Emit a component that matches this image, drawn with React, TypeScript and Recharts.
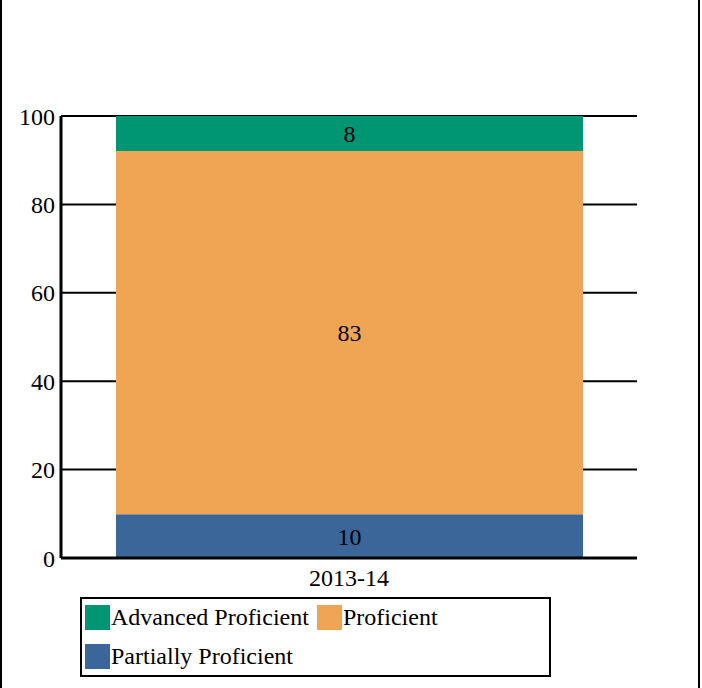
import {
  BarChart,
  Bar,
  XAxis,
  YAxis,
  CartesianGrid,
  LabelList,
} from "recharts";

const years = ["2013-14"];
const partiallyProficient = [10];
const proficient = [83];
const advancedProficient = [8];
const yTicks = [0, 20, 40, 60, 80, 100];

const series = [
  { key: "partial", name: "Partially Proficient", color: "#3B6699", values: partiallyProficient },
  { key: "prof", name: "Proficient", color: "#F0A555", values: proficient },
  { key: "adv", name: "Advanced Proficient", color: "#009673", values: advancedProficient },
];

const data = years.map((year, i) => {
  const row: Record<string, string | number> = { year };
  series.forEach((s) => (row[s.key] = s.values[i]));
  return row;
});

const FONT = "Liberation Serif, Times New Roman, DejaVu Serif, serif";

// legend rows, as laid out in the original
const legendRows = [
  [series[2], series[1]],
  [series[0]],
];

const Legend = () => (
  <div
    style={{
      position: "absolute",
      left: 80,
      top: 597,
      width: 471,
      height: 80,
      border: "2px solid #000",
      boxSizing: "border-box",
      fontFamily: FONT,
      fontSize: 24,
      color: "#000",
      paddingLeft: 3,
      paddingTop: 6,
    }}
  >
    {legendRows.map((row, r) => (
      <div key={r} style={{ display: "flex", alignItems: "flex-start", height: 39 }}>
        {row.map((s) => (
          <div key={s.key} style={{ display: "flex", alignItems: "flex-start", marginRight: 8 }}>
            <span
              style={{
                display: "inline-block",
                width: 25,
                height: 25,
                background: s.color,
                marginRight: 1,
              }}
            />
            <span style={{ lineHeight: "24px" }}>{s.name}</span>
          </div>
        ))}
      </div>
    ))}
  </div>
);

const axisLine = { stroke: "#000", strokeWidth: 3 };
const tickStyle = { fill: "#000", fontSize: 24, fontFamily: FONT };

export default function App() {
  return (
    <div style={{ position: "relative", width: 702, height: 688, background: "#fff", fontFamily: FONT }}>
      <style>{`body{margin:0}`}</style>
      <div
        style={{
          position: "absolute",
          left: 0,
          top: 0,
          width: 700,
          height: 688,
          borderLeft: "2px solid #000",
          borderRight: "2px solid #000",
          boxSizing: "border-box",
        }}
      />
      <div style={{ position: "absolute", left: 0, top: 0 }}>
        <BarChart
          width={702}
          height={688}
          data={data}
          stackOffset="expand"
          margin={{ top: 116, right: 65, bottom: 90, left: 1 }}
        >
          <CartesianGrid horizontal vertical={false} stroke="#000" strokeWidth={2} />
          <XAxis
            dataKey="year"
            height={40}
            axisLine={axisLine}
            tickLine={false}
            tickSize={6}
            tickMargin={5}
            tick={tickStyle}
          />
          <XAxis xAxisId="top" orientation="top" dataKey="year" height={0} tick={false} tickLine={false} axisLine={axisLine} />
          <YAxis
            width={60}
            domain={[0, 1]}
            ticks={yTicks.map((t) => t / 100)}
            tickFormatter={(v: number) => String(Math.round(v * 100))}
            axisLine={axisLine}
            tickLine={false}
            tickSize={6}
            tickMargin={0}
            tick={tickStyle}
            interval={0}
          />
          <YAxis yAxisId="right" orientation="right" width={0} domain={[0, 1]} tick={false} tickLine={false} axisLine={axisLine} />
          {series.map((s) => (
            <Bar
              key={s.key}
              dataKey={s.key}
              name={s.name}
              stackId="a"
              fill={s.color}
              barSize={467}
              isAnimationActive={false}
            >
              <LabelList
                dataKey={s.key}
                position="center"
                fill="#000"
                fontSize={24}
                fontFamily={FONT}
              />
            </Bar>
          ))}
        </BarChart>
      </div>
      <Legend />
    </div>
  );
}
